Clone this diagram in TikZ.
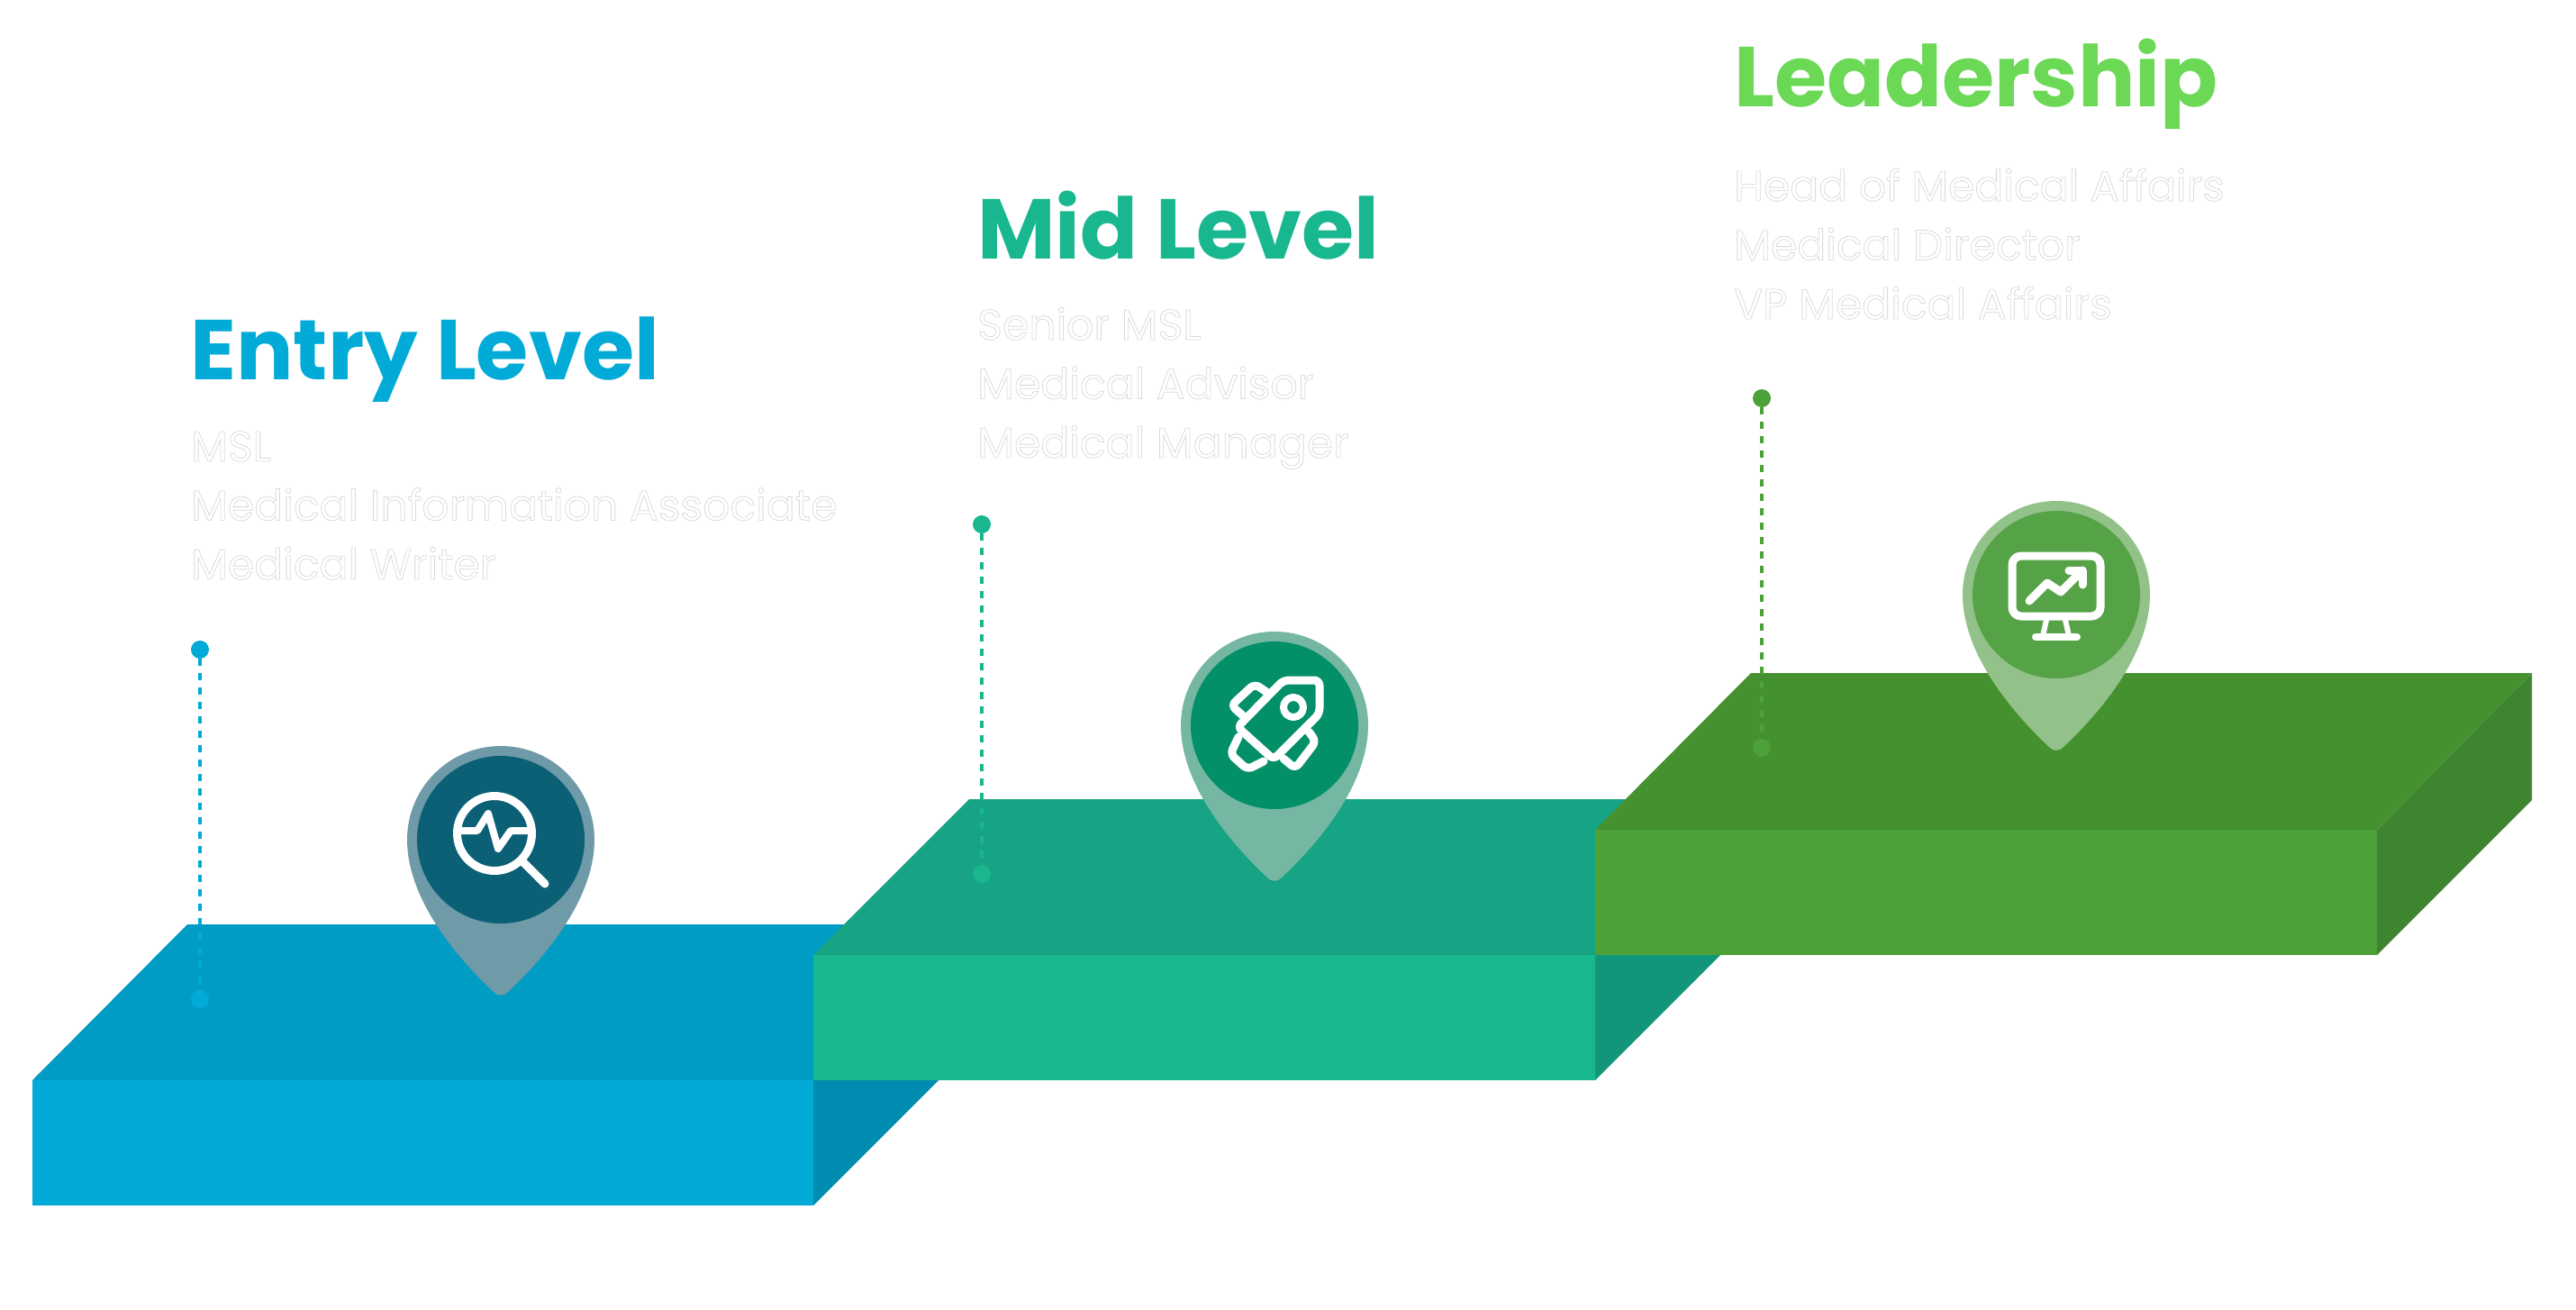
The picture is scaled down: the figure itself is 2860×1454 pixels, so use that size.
\documentclass[tikz,border=0pt]{standalone}
\usepackage{fontspec}
\setmainfont{Poppins}
\usepackage{tikz}

\definecolor{entryfront}{HTML}{02ABD7}
\definecolor{entrytop}{HTML}{009CC4}
\definecolor{entryside}{HTML}{008BB0}
\definecolor{entrypin}{HTML}{6F9AA8}
\definecolor{entryhead}{HTML}{0B6075}
\definecolor{midfront}{HTML}{19B78F}
\definecolor{midtop}{HTML}{17A484}
\definecolor{midside}{HTML}{12967A}
\definecolor{midpin}{HTML}{75B7A2}
\definecolor{midhead}{HTML}{039069}
\definecolor{leadfront}{HTML}{4DA139}
\definecolor{leadtop}{HTML}{459130}
\definecolor{leadside}{HTML}{3F8430}
\definecolor{leadpin}{HTML}{92C28A}
\definecolor{leadhead}{HTML}{56A347}
\definecolor{leadtitle}{HTML}{6BD856}

% white letters with a thin grey edge
\newcommand{\edgeon}{\special{pdf:code 2 Tr 0.8 w 0.86 G}}
\newcommand{\edgeoff}{\special{pdf:code 0 Tr}}

\begin{document}
\begin{tikzpicture}[x=1pt,y=-1pt]
        \tikzset{
            title/.style={anchor=base west, inner sep=0pt, font=\fontsize{94.3}{96}\selectfont\bfseries},
            roles/.style={anchor=base west, inner sep=0pt, align=left, text=white, font=\fontsize{47.3}{65.5}\selectfont},
            dot/.style={circle, inner sep=0pt, minimum size=20pt},
            leader/.style={line width=3.5pt, dash pattern=on 8pt off 8pt},
            iconline/.style={draw=white, line width=9pt, line cap=round, line join=round}
        }
        \useasboundingbox (0,0) rectangle (2860,1454);

        % blocks, lowest first
        \fill[entryside] (903,1338) -- (1076,1165) -- (1076,1026) -- (903,1199) -- cycle;
        \fill[entrytop] (36,1199) -- (208,1026) -- (1076,1026) -- (903,1199) -- cycle;
        \fill[entryfront] (36,1199) rectangle (903,1338);

        \fill[midside] (1771,1199) -- (1943,1027) -- (1943,887) -- (1771,1060) -- cycle;
        \fill[midtop] (903,1060) -- (1076,887) -- (1943,887) -- (1771,1060) -- cycle;
        \fill[midfront] (903,1060) rectangle (1771,1199);

        \fill[leadside] (2639,1060) -- (2811,888) -- (2811,747) -- (2639,921) -- cycle;
        \fill[leadtop] (1771,921) -- (1944,747) -- (2811,747) -- (2639,921) -- cycle;
        \fill[leadfront] (1771,921) rectangle (2639,1060);

        % titles and roles
        \node (entrytitle) [title, text=entryfront] at (211,421) {Entry Level};
        \node (entryroles) [roles] at (212,643) {\edgeon MSL\\Medical Information Associate\\Medical Writer\edgeoff};
        \node (midtitle) [title, text=midfront] at (1085,287) {Mid Level};
        \node (midroles) [roles] at (1085,508) {\edgeon Senior MSL\\Medical Advisor\\Medical Manager\edgeoff};
        \node (leadtitle) [title, text=leadtitle] at (1925,118) {Leadership};
        \node (leadroles) [roles] at (1925,354) {\edgeon Head of Medical Affairs\\Medical Director\\VP Medical Affairs\edgeoff};

        % leader lines
        \node (entryupper) [dot, fill=entryfront] at (222,721) {};
        \node (entrylower) [dot, fill=entryfront] at (222,1109) {};
        \draw[leader, entryfront] (entryupper) -- (entrylower);
        \node (midupper) [dot, fill=midfront] at (1090,582) {};
        \node (midlower) [dot, fill=midfront] at (1090,970) {};
        \draw[leader, midfront] (midupper) -- (midlower);
        \node (leadupper) [dot, fill=leadfront] at (1956,442) {};
        \node (leadlower) [dot, fill=leadfront] at (1956,830) {};
        \draw[leader, leadfront] (leadupper) -- (leadlower);

        % pin with search icon
        \begin{scope}[shift={(556,932)}]
            \fill[entrypin] (-104,0) arc[start angle=180, end angle=360, radius=104]
                .. controls (104,60) and (58,122) .. (8,169)
                .. controls (4,174) and (-4,174) .. (-8,169)
                .. controls (-58,122) and (-104,60) .. (-104,0) -- cycle;
            \fill[entryhead] (0,0) circle[radius=93];
            \draw[iconline] (-7,-7) circle[radius=41.5];
            \draw[iconline] (24,24) -- (49,49);
            \draw[iconline, line width=8pt] (-43,-10) -- (-26,-10) -- (-14,-29) -- (-3,10) -- (11,-10) -- (29,-10);
        \end{scope}

        % pin with rocket icon
        \begin{scope}[shift={(1415,805)}]
            \fill[midpin] (-104,0) arc[start angle=180, end angle=360, radius=104]
                .. controls (104,60) and (58,122) .. (8,169)
                .. controls (4,174) and (-4,174) .. (-8,169)
                .. controls (-58,122) and (-104,60) .. (-104,0) -- cycle;
            \fill[midhead] (0,0) circle[radius=93];
            \draw[iconline, rounded corners=6pt] (50,-50) -- (50,-13) -- (-1,38) -- (-41,2) -- (10,-50) -- cycle;
            \draw[iconline, line width=8pt] (21,-20) circle[radius=11];
            \draw[iconline, rounded corners=6pt] (-9,-37) -- (-22,-46) -- (-48,-22) -- (-32,-8);
            \draw[iconline, rounded corners=6pt] (38,7) -- (46,18) -- (23,48) -- (10,37);
            \draw[iconline, rounded corners=6pt] (-40,13) -- (-49,32) -- (-30,49) -- (-12,40);
        \end{scope}

        % pin with chart icon
        \begin{scope}[shift={(2283,660)}]
            \fill[leadpin] (-104,0) arc[start angle=180, end angle=360, radius=104]
                .. controls (104,60) and (58,122) .. (8,169)
                .. controls (4,174) and (-4,174) .. (-8,169)
                .. controls (-58,122) and (-104,60) .. (-104,0) -- cycle;
            \fill[leadhead] (0,0) circle[radius=93];
            \draw[iconline, rounded corners=10pt] (-49,-43) rectangle (49,24);
            \draw[iconline, line width=6pt] (-11,28) -- (-15,46);
            \draw[iconline, line width=6pt] (10,28) -- (14,46);
            \draw[iconline, line width=8pt] (-23,47) -- (23,47);
            \draw[iconline] (-30,7) -- (-10,-13) -- (5,-3) -- (29,-27);
            \draw[iconline] (14,-27) -- (29,-27) -- (29,-11);
        \end{scope}
    \end{tikzpicture}
\end{document}
